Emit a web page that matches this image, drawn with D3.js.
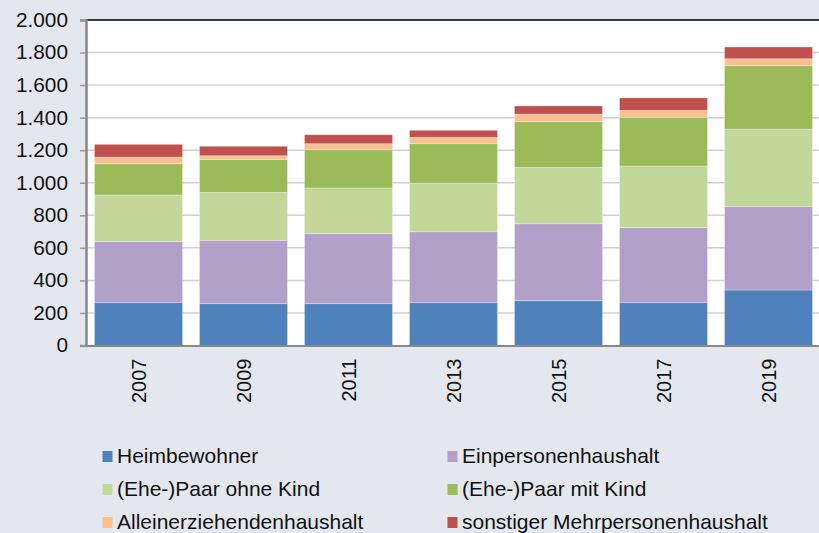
<!DOCTYPE html>
<html>
<head>
<meta charset="utf-8">
<script src="https://cdn.jsdelivr.net/npm/d3@7"></script>
<style>
  body { margin: 0; background: #e4e7ee; }
  svg { display: block; font-family: "Liberation Sans", Arial, sans-serif; }
</style>
</head>
<body>
<div class="root"></div>
<script>
const width = 819;
const height = 533;

const years = ["2007", "2009", "2011", "2013", "2015", "2017", "2019"];
const seriesNames = [
  "Heimbewohner",
  "Einpersonenhaushalt",
  "(Ehe-)Paar ohne Kind",
  "(Ehe-)Paar mit Kind",
  "Alleinerziehendenhaushalt",
  "sonstiger Mehrpersonenhaushalt",
];
const heimbewohner = [263, 257, 257, 263, 275, 263, 341];
const einpersonen = [375, 389, 430, 436, 473, 461, 512];
const paarOhneKind = [287, 295, 281, 299, 347, 379, 477];
const paarMitKind = [192, 201, 235, 242, 280, 299, 389];
const alleinerziehend = [41, 24, 37, 39, 47, 43, 43];
const sonstige = [78, 58, 55, 43, 50, 76, 72];
const yTicks = [0, 200, 400, 600, 800, 1000, 1200, 1400, 1600, 1800, 2000];
const colors = ["#4f81bd", "#b1a0c7", "#c4d79b", "#9bbb59", "#fac090", "#c0504d"];

const seriesValues = [heimbewohner, einpersonen, paarOhneKind, paarMitKind, alleinerziehend, sonstige];
const rows = years.map((y, i) => {
  const row = { year: y };
  seriesNames.forEach((s, k) => (row[s] = seriesValues[k][i]));
  return row;
});
const stacked = d3.stack().keys(seriesNames)(rows);

const plot = { left: 86, top: 20, right: 821, bottom: 345.5 };

const svg = d3
  .select(".root")
  .append("svg")
  .attr("width", width)
  .attr("height", height);

const x = d3
  .scaleBand()
  .domain(years)
  .range([plot.left, plot.right])
  .paddingInner(0.162)
  .paddingOuter(0.081);

const y = d3.scaleLinear().domain([0, 2000]).range([plot.bottom, plot.top]);

// plot background
svg
  .append("rect")
  .attr("x", plot.left)
  .attr("y", plot.top)
  .attr("width", plot.right - plot.left)
  .attr("height", plot.bottom - plot.top)
  .attr("fill", "#fff");

// grid lines
svg
  .append("g")
  .selectAll("line")
  .data(yTicks.slice(1, -1))
  .join("line")
  .attr("x1", plot.left)
  .attr("x2", plot.right)
  .attr("y1", (d) => y(d))
  .attr("y2", (d) => y(d))
  .attr("stroke", "#d0d0d0")
  .attr("stroke-width", 1.5);

// bars
svg
  .append("g")
  .selectAll("g")
  .data(stacked)
  .join("g")
  .attr("fill", (d, i) => colors[i])
  .selectAll("rect")
  .data((d) => d)
  .join("rect")
  .attr("x", (d) => x(d.data.year))
  .attr("width", x.bandwidth())
  .attr("y", (d) => y(d[1]))
  .attr("height", (d) => y(d[0]) - y(d[1]))
  .attr("stroke", "rgba(255,255,255,0.35)")
  .attr("stroke-width", 0.8);

// top border
svg
  .append("line")
  .attr("x1", plot.left)
  .attr("x2", plot.right)
  .attr("y1", plot.top)
  .attr("y2", plot.top)
  .attr("stroke", "#000")
  .attr("stroke-width", 1.5);

// y axis
const yAxis = svg
  .append("g")
  .attr("transform", `translate(${plot.left},0)`)
  .call(
    d3
      .axisLeft(y)
      .tickValues(yTicks)
      .tickSize(6)
      .tickPadding(0)
      .tickFormat((d) => d3.format(",")(d).replace(/,/g, "."))
  );
yAxis.select(".domain").attr("stroke", "#888").attr("stroke-width", 2.5);
yAxis.selectAll(".tick line").attr("stroke", "#999").attr("stroke-width", 1.5);
yAxis
  .selectAll(".tick text")
  .attr("fill", "#111")
  .attr("x", 0)
  .attr("transform", "translate(-18,0) scale(1.04,1)")
  .style("font-size", "20px")
  .style("font-family", '"Liberation Sans", Arial, sans-serif');

// x axis
const xAxis = svg
  .append("g")
  .attr("transform", `translate(0,${plot.bottom})`)
  .call(d3.axisBottom(x).tickSize(0).tickPadding(0));
xAxis.select(".domain").attr("stroke", "#888").attr("stroke-width", 2);
xAxis
  .selectAll(".tick text")
  .attr("fill", "#111")
  .style("font-size", "20px")
  .style("font-family", '"Liberation Sans", Arial, sans-serif')
  .attr("transform", "rotate(-90)")
  .attr("text-anchor", "end")
  .attr("dy", "0.35em")
  .attr("x", -13)
  .attr("y", 0);

// legend
const legend = svg
  .append("g")
  .selectAll("g")
  .data(seriesNames)
  .join("g")
  .attr("transform", (d, i) => `translate(${i % 2 ? 447.5 : 102.5},${451 + Math.floor(i / 2) * 33})`);

legend
  .append("rect")
  .attr("x", 0)
  .attr("y", 0)
  .attr("width", 10)
  .attr("height", 11)
  .attr("fill", (d, i) => colors[i]);

legend
  .append("text")
  .attr("x", 14.5)
  .attr("y", 11.5)
  .attr("fill", "#111")
  .style("font-size", "21px")
  .text((d) => d);
</script>
</body>
</html>
